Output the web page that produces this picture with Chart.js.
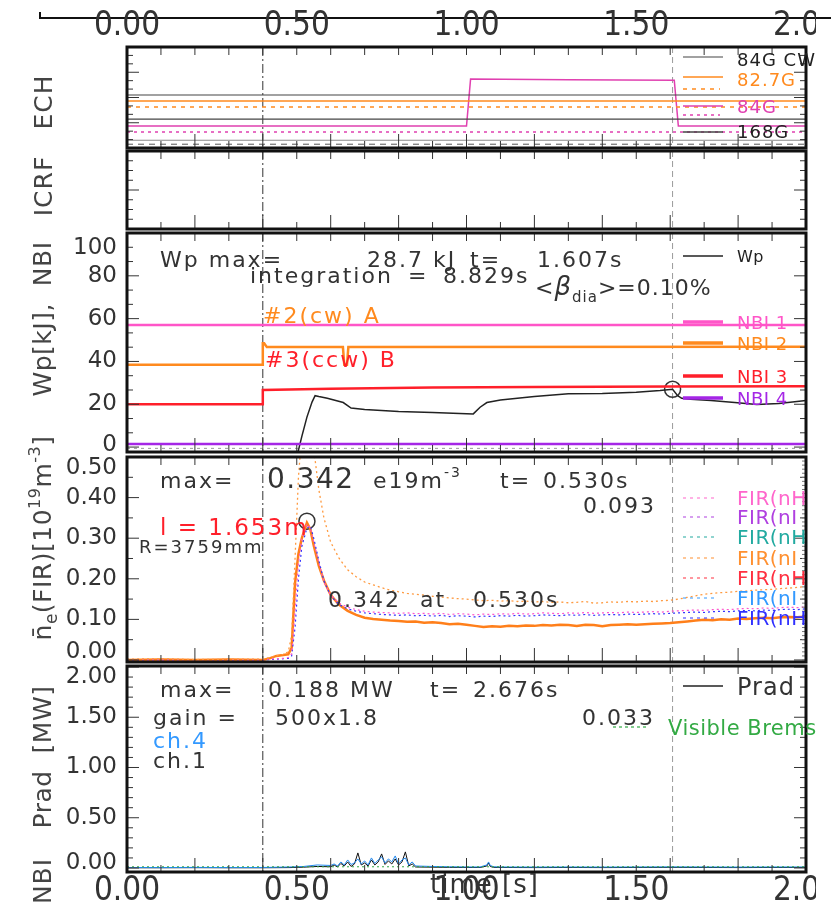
<!DOCTYPE html>
<html>
<head>
<meta charset="utf-8">
<script src="https://cdn.jsdelivr.net/npm/chart.js@4.4.1/dist/chart.umd.min.js"></script>
<style>
  html, body { margin: 0; padding: 0; background: #fff; }
  body { position: relative; width: 831px; height: 914px; overflow: hidden; }
  canvas { position: absolute; left: 0; }
</style>
</head>
<body>
<canvas id="ech"></canvas>
<canvas id="icrf"></canvas>
<canvas id="nbi"></canvas>
<canvas id="fir"></canvas>
<canvas id="prad"></canvas>
<script>
// ---- time axis ----
const timeTicks = [0, 0.5, 1.0, 1.5, 2.0];
const timeLabels = ['0.00', '0.50', '1.00', '1.50', '2.00'];
const markTimes = [0.40, 1.607];          // NBI switch, Wp max

// ---- ECH (arb. units) ----
const echT = [0, 2];
const ech84cw = [6.3, 6.3];
const ech827 = [5.58, 5.58];
const ech827b = [4.87, 4.87];
const ech168 = [3.44, 3.44];
const ech84T = [0, 1.00, 1.012, 1.30, 1.612, 1.624, 2.0];
const ech84 = [2.61, 2.61, 8.19, 8.12, 8.05, 2.61, 2.61];
const ech84b = [1.9, 1.9];
const echBase1 = [0.92, 0.92];
const echBase2 = [0.45, 0.45];

// ---- Wp / NBI ----
const nbiTickLabels = ['0', '20', '40', '60', '80', '100'];
const nbi1T = [0, 2], nbi1V = [57, 57];
const nbi2T = [0, 0.40, 0.40, 0.404, 0.412, 0.636, 0.640, 0.648, 0.652, 2.0];
const nbi2V = [38.4, 38.4, 48.5, 48.5, 46.7, 46.7, 38.5, 38.5, 46.7, 46.9];
const nbi3T = [0, 0.40, 0.40, 0.60, 0.90, 1.20, 1.60, 2.0];
const nbi3V = [20.0, 20.0, 26.7, 27.2, 27.8, 28.1, 28.3, 28.4];
const nbi4T = [0, 2], nbi4V = [1.4, 1.4];
const wpBaseT = [0, 2], wpBaseV = [-0.6, -0.6];
const wpT = [0.498, 0.515, 0.530, 0.545, 0.554, 0.565, 0.590, 0.615, 0.637, 0.660, 0.700, 0.800, 0.900, 1.000, 1.020, 1.040,
             1.060, 1.100, 1.200, 1.300, 1.400, 1.500, 1.570, 1.607, 1.622, 1.634, 1.660, 1.720, 1.790, 1.855, 1.920, 2.000];
const wpV = [-6.0, 5.0, 14.0, 21.0, 24.0, 23.6, 22.8, 21.8, 20.8, 18.2, 17.6, 16.6, 16.1, 15.6, 15.5, 18.6,
             20.8, 22.0, 23.6, 24.9, 25.0, 25.6, 26.4, 27.0, 24.0, 22.8, 22.3, 21.8, 20.8, 19.9, 20.4, 21.8];
const wpMaxT = [1.607], wpMaxV = [27.0];

// ---- line density FIR ----
const firTickLabels = ['0.00', '0.10', '0.20', '0.30', '0.40', '0.50'];
const firT = [0.00, 0.10, 0.20, 0.30, 0.40, 0.42, 0.44, 0.46, 0.475, 0.485, 0.495, 0.505, 0.515, 0.53, 0.54, 0.55, 0.565,
              0.58, 0.60, 0.625, 0.65, 0.675,
              0.700, 0.725, 0.750, 0.775, 0.800, 0.825, 0.850, 0.875, 0.900, 0.925, 0.950, 0.975, 1.000, 1.025, 1.050,
              1.075, 1.100, 1.125, 1.150, 1.175, 1.200, 1.225, 1.250, 1.275, 1.300, 1.325, 1.350, 1.375, 1.400, 1.425,
              1.450, 1.475, 1.500, 1.525, 1.550, 1.575, 1.600, 1.625, 1.650, 1.675, 1.700, 1.725, 1.750, 1.775, 1.800,
              1.825, 1.850, 1.875, 1.900, 1.925, 1.950, 1.975, 2.000];
const firOrange = [0.000, 0.001, 0.000, 0.001, 0.000, 0.004, 0.010, 0.012, 0.014, 0.030, 0.190, 0.262, 0.300, 0.338, 0.322,
                   0.282, 0.232, 0.196, 0.160, 0.136, 0.121, 0.111,
                   .104, .101, .099, .097, .096, .094, .095, .092, .093, .091, .088, .089, .087, .084, .081, .083, .082,
                   .084, .083, .085, .084, .086, .085, .087, .086, .084, .087, .086, .083, .086, .087, .088, .087, .088,
                   .089, .090, .091, .093, .095, .097, .099, .098, .100, .099, .102, .101, .103, .104, .103, .105, .106,
                   .105, .107];
const firOrangeDot = [0.002, 0.003, 0.001, 0.002, 0.002, 0.006, 0.010, 0.014, 0.020, 0.060, 0.250, 0.450, 0.560, 0.600,
                      0.580, 0.520, 0.420, 0.350, 0.290, 0.250, 0.222, 0.205,
                      .192, .185, .178, .172, .168, .164, .162, .160, .157, .155, .153, .151, .150, .148, .146, .147,
                      .145, .146, .144, .145, .143, .144, .142, .143, .141, .142, .144, .140, .141, .143, .142, .144,
                      .143, .145, .144, .146, .147, .150, .154, .158, .162, .164, .166, .167, .169, .170, .172, .173,
                      .174, .176, .177, .179, .181];
const firBlue = [0.000, 0.000, 0.001, 0.000, 0.000, 0.001, 0.002, 0.003, 0.004, 0.010, 0.080, 0.200, 0.280, 0.325, 0.330,
                 0.300, 0.245, 0.195, 0.158, 0.136, 0.126, 0.120,
                 .116, .114, .112, .111, .110, .111, .109, .110, .108, .110, .107, .109, .108, .106, .108, .107, .109,
                 .108, .110, .108, .109, .111, .110, .109, .111, .110, .112, .110, .111, .112, .111, .113, .112, .113,
                 .114, .113, .115, .116, .117, .118, .117, .119, .120, .119, .121, .122, .121, .123, .122, .124, .125,
                 .124, .126];
const firPink = [0.001, 0.000, 0.001, 0.001, 0.000, 0.002, 0.003, 0.004, 0.006, 0.015, 0.120, 0.240, 0.300, 0.335, 0.325,
                 0.290, 0.240, 0.192, 0.160, 0.140, 0.130, 0.124,
                 .120, .118, .117, .116, .115, .116, .114, .115, .113, .115, .112, .114, .113, .111, .113, .112, .114,
                 .113, .115, .113, .114, .116, .115, .114, .116, .115, .117, .115, .116, .117, .116, .118, .117, .118,
                 .119, .118, .120, .121, .122, .123, .122, .124, .125, .124, .126, .127, .126, .128, .127, .129, .130,
                 .129, .131];
const firMaxT = [0.530], firMaxV = [0.342];

// ---- Prad ----
const pradTickLabels = ['0.00', '0.50', '1.00', '1.50', '2.00'];
const pradT = [0.00, 0.10, 0.20, 0.30, 0.40, 0.48, 0.52, 0.56,
               0.60, 0.61, 0.62, 0.63, 0.64, 0.65, 0.66, 0.67, 0.68, 0.69, 0.70, 0.71, 0.72, 0.73, 0.74, 0.75, 0.76,
               0.77, 0.78, 0.79, 0.80, 0.81, 0.82, 0.83, 0.84, 0.85,
               0.90, 0.95, 1.00, 1.04, 1.06, 1.065, 1.07, 1.08, 1.10, 1.20, 1.30, 1.40, 1.50, 1.60, 1.70, 1.80, 1.90, 2.00];
const pradCh4 = [0.005, 0.004, 0.006, 0.004, 0.005, 0.010, 0.015, 0.030,
                 0.025, 0.040, 0.020, 0.060, 0.030, 0.080, 0.035, 0.050, 0.090, 0.040, 0.070, 0.030, 0.100, 0.045,
                 0.080, 0.110, 0.050, 0.090, 0.060, 0.120, 0.040, 0.080, 0.100, 0.030, 0.060, 0.020,
                 0.015, 0.012, 0.010, 0.010, 0.030, 0.060, 0.025, 0.012, 0.010, 0.009, 0.010, 0.009, 0.010, 0.011,
                 0.010, 0.009, 0.010, 0.010];
const pradCh1 = [0.002, 0.002, 0.003, 0.002, 0.002, 0.004, 0.008, 0.015,
                 0.012, 0.030, 0.010, 0.045, 0.020, 0.060, 0.015, 0.040, 0.150, 0.030, 0.050, 0.020, 0.080, 0.030,
                 0.060, 0.140, 0.035, 0.070, 0.040, 0.090, 0.030, 0.060, 0.160, 0.020, 0.040, 0.010,
                 0.008, 0.006, 0.005, 0.005, 0.020, 0.050, 0.015, 0.006, 0.005, 0.004, 0.005, 0.004, 0.005, 0.006,
                 0.005, 0.004, 0.005, 0.005];
const bremsT = [0, 2], bremsV = [0.012, 0.012];

// ---- look ----
const INK = '#333';
const FONT = "'DejaVu Sans', 'Liberation Sans', sans-serif";
const NARROW = "'Liberation Sans Narrow', 'DejaVu Sans Condensed', sans-serif";
const PINK = '#ff55c8', MAG = '#e040b0', ORANGE = '#ff8a1e', RED = '#ff1f2a', PURPLE = '#a526e6';
const X0 = 127, X1 = 806, PAD = 40;

const xy = (ts, vs) => ts.map((t, i) => ({ x: t, y: vs[i] }));
const ln = (ts, vs, color, width, dash) => ({
  data: xy(ts, vs), borderColor: color, borderWidth: width || 1.2, borderDash: dash || [], pointRadius: 0, fill: false
});
const ring = (ts, vs) => ({
  data: xy(ts, vs), showLine: false, pointRadius: 8, pointBorderWidth: 1.5,
  pointBorderColor: INK, pointBackgroundColor: 'rgba(0,0,0,0)'
});

// text helpers (page coordinates, baseline y)
const T = (x, y, s, size, color, extra) => Object.assign({ x, y, color: color || INK, parts: [[s, size || 22, 0]] }, extra);
const R = (x, y, parts, color, extra) => Object.assign({ x, y, color: color || INK, parts }, extra);
const L = (x1, x2, y, color, w, dash) => ({ line: [x1, x2, y], color, w: w || 1.2, dash: dash || [] });

function drawNote(ctx, n, off) {
  ctx.save();
  if (n.line) {
    ctx.strokeStyle = n.color; ctx.lineWidth = n.w; ctx.setLineDash(n.dash);
    ctx.beginPath(); ctx.moveTo(n.line[0], n.line[2] - off); ctx.lineTo(n.line[1], n.line[2] - off); ctx.stroke();
    ctx.restore();
    return;
  }
  ctx.fillStyle = n.color;
  ctx.textBaseline = 'alphabetic';
  ctx.letterSpacing = (n.ls === undefined ? 2 : n.ls) + 'px';
  ctx.translate(n.x, n.y - off);
  if (n.rot) ctx.rotate(-Math.PI / 2);
  const fontOf = p => (p[3] ? p[3] + ' ' : '') + p[1] + 'px ' + FONT;
  let w = 0;
  n.parts.forEach(p => { ctx.font = fontOf(p); w += ctx.measureText(p[0]).width; });
  let cx = n.align === 'center' ? -w / 2 : 0;
  n.parts.forEach(p => {
    ctx.font = fontOf(p);
    ctx.fillText(p[0], cx, p[2]);
    cx += ctx.measureText(p[0]).width;
  });
  ctx.restore();
}

const notesPlugin = {
  id: 'notes',
  afterDraw(chart, args, o) {
    const ctx = chart.ctx;
    if (o.topAxis) {
      const x = chart.scales.x;
      ctx.save();
      ctx.strokeStyle = '#111'; ctx.lineWidth = 2;
      ctx.beginPath(); ctx.moveTo(40, 12 - o.off); ctx.lineTo(40, 18 - o.off); ctx.lineTo(831, 18 - o.off); ctx.stroke();
      ctx.beginPath(); ctx.rect(0, 0, 816, 60); ctx.clip();
      ctx.fillStyle = INK; ctx.font = '33px ' + NARROW; ctx.textAlign = 'center'; ctx.textBaseline = 'middle';
      timeTicks.forEach((t, i) => ctx.fillText(timeLabels[i], x.getPixelForValue(t), 26 - o.off));
      ctx.restore();
    }
    (o.items || []).forEach(n => drawNote(ctx, n, o.off));
  }
};

const framePlugin = {
  id: 'frame',
  beforeDatasetsDraw(chart) {
    const { ctx, chartArea: c, scales: { x } } = chart;
    ctx.save();
    ctx.lineWidth = 1;
    markTimes.forEach((t, i) => {
      const px = x.getPixelForValue(t);
      ctx.strokeStyle = i ? '#9a9a9a' : '#333';
      ctx.setLineDash(i ? [6, 4] : [9, 3, 2, 3]);
      ctx.beginPath(); ctx.moveTo(px, c.top); ctx.lineTo(px, c.bottom); ctx.stroke();
    });
    ctx.restore();
  },
  afterDatasetsDraw(chart, args, o) {
    const { ctx, chartArea: c, scales: { x, y } } = chart;
    const seg = (x1, y1, x2, y2) => { ctx.beginPath(); ctx.moveTo(x1, y1); ctx.lineTo(x2, y2); ctx.stroke(); };
    ctx.save();
    ctx.strokeStyle = INK; ctx.lineWidth = 1;
    for (let i = 0; i <= 20; i++) {
      const px = x.getPixelForValue(i / 10);
      seg(px, c.top, px, c.top + 8);
      seg(px, c.bottom, px, c.bottom - (i % 2 ? 7 : 14));
    }
    for (let i = 0; ; i++) {
      const v = o.yFrom + i * o.yMinor;
      if (v > y.max + 1e-9) break;
      const py = y.getPixelForValue(v);
      const len = i % o.per === 0 ? 12 : 6;
      seg(c.left, py, c.left + len, py);
      seg(c.right, py, c.right - len, py);
    }
    if (o.fine) {
      ctx.strokeStyle = '#777';
      for (let i = 0; ; i++) {
        const v = i * o.fine;
        if (v > y.max + 1e-9) break;
        const py = y.getPixelForValue(v);
        seg(c.right, py, c.right - 4, py);
      }
    }
    ctx.setLineDash([]);
    ctx.strokeStyle = '#111'; ctx.lineWidth = 3;
    ctx.strokeRect(c.left, c.top, c.width, c.height);
    ctx.restore();
  }
};

function panel(id, fTop, fBot, cfg) {
  const cv = document.getElementById(id);
  const W = cfg.width || 816;
  const bottomSpace = cfg.xAxis ? 44 : PAD;
  cv.width = W;
  cv.height = fBot - fTop + PAD + bottomSpace;
  cv.style.top = (fTop - PAD) + 'px';
  const labels = cfg.yLabels || [];
  const last = labels.length - 1;
  const nT = cfg.nudgeTop || 0, nB = cfg.nudgeBot || 0;
  return new Chart(cv, {
    type: 'line',
    data: { datasets: cfg.datasets },
    options: {
      responsive: false,
      animation: false,
      events: [],
      layout: { padding: { left: 0, right: W - X1, top: PAD, bottom: cfg.xAxis ? 0 : PAD } },
      plugins: {
        legend: { display: false },
        tooltip: { enabled: false },
        frame: cfg.frame,
        notes: { off: fTop - PAD, items: cfg.notes, topAxis: cfg.topAxis }
      },
      scales: {
        x: {
          type: 'linear', min: 0, max: 2,
          display: !!cfg.xAxis,
          grid: { display: false, drawTicks: false },
          border: { display: false },
          ticks: {
            stepSize: 0.5, autoSkip: false, maxRotation: 0, includeBounds: false, padding: 0, color: INK,
            font: { family: NARROW, size: 33 },
            callback: (v, i) => timeLabels[i]
          },
          afterFit: s => {
            if (!cfg.xAxis) return;
            s.height = 44; s.paddingLeft = 0; s.paddingRight = 0;
          }
        },
        y: {
          type: 'linear', min: cfg.yMin, max: cfg.yMax,
          grid: { display: false, drawTicks: false },
          border: { display: false },
          ticks: {
            display: labels.length > 0, stepSize: cfg.yStep, includeBounds: false, autoSkip: false,
            padding: 10, color: INK,
            font: c => ({ family: FONT, size: 23,
                          lineHeight: (c.index === last ? 2 * nT : c.index === 0 ? 2 * nB : 27) + 'px' }),
            callback: (v, i) => {
              const s = labels[i];
              if (i === last && nT) return ['', s];
              if (i === 0 && nB) return [s, ''];
              return s;
            }
          },
          afterFit: s => { s.width = X0; s.paddingTop = 0; s.paddingBottom = 0; }
        }
      }
    },
    plugins: [framePlugin, notesPlugin]
  });
}

// ---------- ECH ----------
panel('ech', 47, 148, {
  width: 831, topAxis: true,
  yMin: 0, yMax: 12,
  frame: { yFrom: 0, yMinor: 1, per: 3 },
  datasets: [
    ln(echT, echBase1, '#8a8a8a', 1),
    ln(echT, echBase2, '#555', 1, [6, 5]),
    ln(echT, ech84cw, '#444', 1.2),
    ln(echT, ech168, '#444', 1.2),
    ln(echT, ech827, ORANGE, 1.5),
    ln(echT, ech827b, ORANGE, 1.3, [4, 5]),
    ln(echT, ech84b, MAG, 1.3, [3, 4]),
    ln(ech84T, ech84, MAG, 1.5)
  ],
  notes: [
    T(52, 102, 'ECH', 25, '#444', { rot: true, align: 'center', ls: 1 }),
    L(683, 723, 57, '#444', 1.2), L(683, 723, 77, ORANGE, 1.5), L(683, 720, 89, ORANGE, 1.3, [4, 5]),
    L(683, 723, 106, MAG, 1.5), L(683, 720, 115, MAG, 1.3, [3, 4]), L(683, 723, 132, '#444', 1.5),
    T(737, 66, '84G CW', 18, '#222', { ls: 1 }),
    T(737, 86, '82.7G', 18, ORANGE, { ls: 1 }),
    T(737, 113, '84G', 18, MAG, { ls: 1 }),
    T(737, 138, '168G', 18, '#222', { ls: 1 })
  ]
});

// ---------- ICRF ----------
panel('icrf', 151, 229, {
  yMin: 0, yMax: 8,
  frame: { yFrom: 0, yMinor: 1, per: 4 },
  datasets: [ln([], [], INK)],
  notes: [T(52, 186, 'ICRF', 25, '#444', { rot: true, align: 'center', ls: 1 })]
});

// ---------- Wp / NBI ----------
panel('nbi', 233, 452, {
  yMin: -2.3, yMax: 100, yStep: 20, yLabels: nbiTickLabels, nudgeTop: 15, nudgeBot: 2,
  frame: { yFrom: 0, yMinor: 20 / 3, per: 3 },
  datasets: [
    ln(wpBaseT, wpBaseV, '#999', 1, [3, 4]),
    ln(nbi1T, nbi1V, PINK, 2.5),
    ln(nbi2T, nbi2V, ORANGE, 2.5),
    ln(nbi3T, nbi3V, RED, 2.5),
    ln(nbi4T, nbi4V, PURPLE, 2.5),
    ln(wpT, wpV, '#222', 1.5),
    ring(wpMaxT, wpMaxV)
  ],
  notes: [
    T(51, 319, 'Wp[kJ],  NBI', 25, '#444', { rot: true, align: 'center', ls: 0.5 }),
    T(160, 267, 'Wp max=', 22),
    T(367, 267, '28.7 kJ', 22),
    T(470, 267, 't=', 22),
    T(537, 267, '1.607s', 22),
    T(250, 283, 'integration', 22),
    T(408, 283, '=', 22),
    T(443, 283, '8.829s', 22),
    R(535, 295, [['<', 22, 0], ['\u03b2', 26, 0, 'italic'], ['dia', 15, 7], ['>=0.10%', 22, 0]], INK, { ls: 1 }),
    T(263, 323, '#2(cw) A', 22, ORANGE),
    T(265, 367, '#3(ccw) B', 22, RED),
    L(683, 723, 256, '#222', 1.5), L(683, 723, 322, PINK, 3.5), L(683, 723, 343, ORANGE, 3.5),
    L(683, 723, 376, RED, 3.5), L(683, 723, 398, PURPLE, 3.5),
    T(737, 262, 'Wp', 16, '#222', { ls: 0.5 }),
    T(737, 329, 'NBI 1', 18, PINK, { ls: 0.5 }),
    T(737, 350, 'NBI 2', 18, ORANGE, { ls: 0.5 }),
    T(737, 383, 'NBI 3', 18, RED, { ls: 0.5 }),
    T(737, 405, 'NBI 4', 18, PURPLE, { ls: 0.5 })
  ]
});

// ---------- FIR density ----------
const firLegend = [['FIR(nH', '#ff66cc'], ['FIR(nI', '#b040e0'], ['FIR(nH', '#22aaa0'], ['FIR(nI', '#ff9030'],
                   ['FIR(nH', '#ff3040'], ['FIR(nI', '#3399ff'], ['FIR(nH', '#3030ff']];
const firLegendY = [498, 517, 537, 558, 578, 598, 618];
panel('fir', 457, 662, {
  yMin: -0.005, yMax: 0.5, yStep: 0.1, yLabels: firTickLabels, nudgeTop: 11, nudgeBot: 8,
  frame: { yFrom: 0, yMinor: 0.05, per: 2, fine: 0.01 },
  datasets: [
    ln(firT, firOrangeDot, '#ff9a40', 1.3, [2, 3]),
    ln(firT, firPink, '#ff55cc', 1.2, [2, 3]),
    ln(firT, firBlue, '#3333ff', 1.2, [2, 3]),
    ln(firT, firOrange, '#ff7f1a', 2.5),
    ring(firMaxT, firMaxV)
  ],
  notes: [
    R(51, 538, [['n\u0304', 25, 0], ['e', 17, 6], ['(FIR)[10', 25, 0], ['19', 16, -11], ['m', 25, 0],
                ['-3', 16, -11], [']', 25, 0]], '#444', { rot: true, align: 'center', ls: 0.5 }),
    T(160, 488, 'max=', 22),
    T(267, 488, '0.342', 28, INK, { ls: 1.5 }),
    R(373, 488, [['e19m', 22, 0], ['-3', 14, -11]], INK),
    T(500, 488, 't=', 22),
    T(543, 488, '0.530s', 22),
    T(583, 513, '0.093', 22),
    T(160, 535, 'l = 1.653m', 23, RED),
    T(139, 553, 'R=3759mm', 18),
    T(328, 607, '0.342', 22),
    T(420, 607, 'at', 22),
    T(473, 607, '0.530s', 22)
  ].concat(firLegend.map((f, i) => L(683, 717, firLegendY[i], f[1], 1.2, [3, 4])))
   .concat(firLegend.map((f, i) => T(737, firLegendY[i] + 7, f[0], 20, f[1], { ls: 0.5 })))
});

// ---------- Prad ----------
panel('prad', 666, 872, {
  xAxis: true,
  yMin: -0.04, yMax: 2.01, yStep: 0.5, yLabels: pradTickLabels, nudgeTop: 10, nudgeBot: 5,
  frame: { yFrom: 0, yMinor: 0.1, per: 5 },
  datasets: [
    ln(bremsT, bremsV, '#33aa44', 1, [2, 3]),
    ln(pradT, pradCh4, '#2288ee', 1),
    ln(pradT, pradCh1, '#111', 1)
  ],
  notes: [
    T(51, 757, 'Prad  [MW]', 25, '#444', { rot: true, align: 'center', ls: 0.5 }),
    T(51, 881, 'NBI', 25, '#444', { rot: true, align: 'center', ls: 1 }),
    T(160, 697, 'max=', 22),
    T(268, 697, '0.188 MW', 22),
    T(430, 697, 't=', 22),
    T(473, 697, '2.676s', 22),
    T(153, 725, 'gain =', 22),
    T(275, 725, '500x1.8', 22),
    T(153, 748, 'ch.4', 22, '#3399ff'),
    T(153, 768, 'ch.1', 22),
    T(582, 725, '0.033', 22),
    L(613, 648, 727, '#33aa44', 1.2, [3, 3]),
    T(668, 735, 'Visible Brems', 21, '#33aa44', { ls: 0.5 }),
    L(683, 723, 686, '#222', 1.5),
    T(737, 695, 'Prad', 24, INK, { ls: 1 }),
    T(430, 893, 'time [s]', 26, INK, { ls: 1 })
  ]
});
</script>
</body>
</html>
